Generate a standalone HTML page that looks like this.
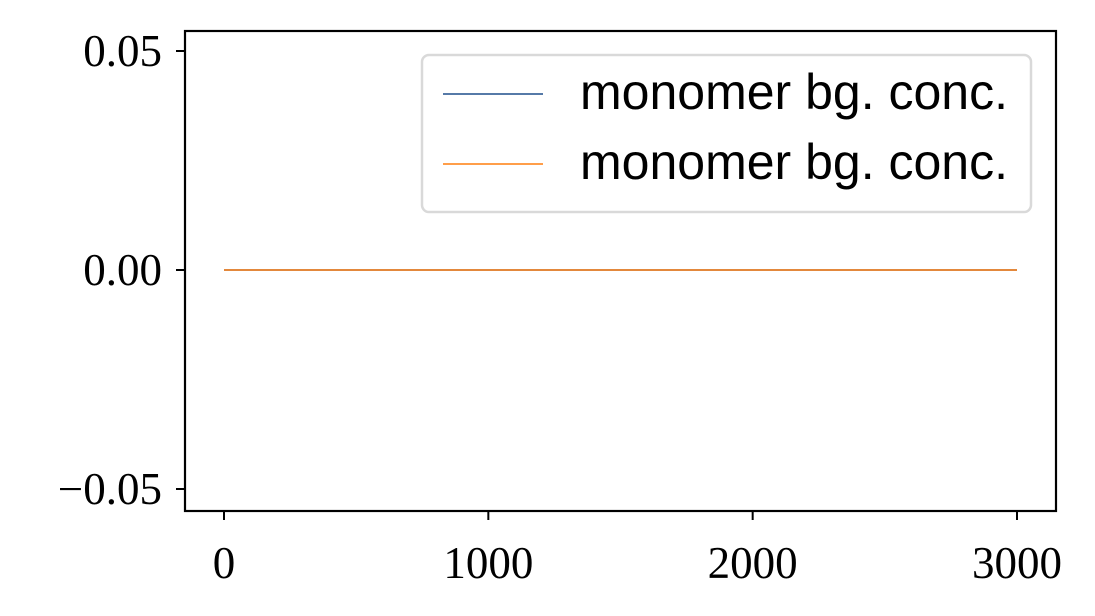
<!DOCTYPE html>
<html><head><meta charset="utf-8"><style>
html,body{margin:0;padding:0;background:#fff;}
svg{display:block;}
.tick{font-family:"Liberation Serif",serif;font-size:45px;fill:#000;}
.leg{font-family:"Liberation Sans",sans-serif;font-size:50px;fill:#000;}
</style></head><body>
<svg id="chart" width="1095" height="616" viewBox="0 0 1095 616"></svg>
<script>
const xTicks = [0, 1000, 2000, 3000];
const xTickLabels = ["0", "1000", "2000", "3000"];
const yTicks = [0.05, 0.00, -0.05];
const yTickLabels = ["0.05", "0.00", "\u22120.05"];
const seriesNames = ["monomer bg. conc.", "monomer bg. conc."];
const seriesColors = ["#1f4e8c", "#ff7f0e"];
const seriesX = [0, 3000];
const seriesA = [0, 0];
const seriesB = [0, 0];

const NS = "http://www.w3.org/2000/svg";
const svg = document.getElementById("chart");
const L = 185, T = 31, R = 1056, B = 511;
function xs(v){ return 224 + (v - 0) / 3000 * (1017 - 224); }
function ys(v){ return 270 - v / 0.05 * (270 - 51); }
function mk(tag, attrs, parent){
  const e = document.createElementNS(NS, tag);
  for (const k in attrs) e.setAttribute(k, attrs[k]);
  (parent || svg).appendChild(e);
  return e;
}
[seriesA, seriesB].forEach((ys_, i) => {
  const pts = seriesX.map((x, j) => xs(x) + "," + ys(ys_[j])).join(" ");
  const pl = mk("polyline", {points: pts, fill: "none", stroke: seriesColors[i], "stroke-width": 1.5});
  
  
});
const fr = mk("rect", {x: L, y: T, width: R - L, height: B - T, fill: "none", stroke: "#000", "stroke-width": 2.2});


xTicks.forEach((v, i) => {
  const g = mk("g", {});
  
  
  mk("line", {x1: xs(v), x2: xs(v), y1: B, y2: B + 9, stroke: "#000", "stroke-width": 2}, g);
  const t = mk("text", {x: xs(v), y: 578, "text-anchor": "middle", class: "tick"}, g);
  t.textContent = xTickLabels[i];
});
yTicks.forEach((v, i) => {
  const g = mk("g", {});
  
  
  mk("line", {x1: L - 9, x2: L, y1: ys(v), y2: ys(v), stroke: "#000", "stroke-width": 2}, g);
  const t = mk("text", {x: 162, y: ys(v) + 15, "text-anchor": "end", class: "tick"}, g);
  t.textContent = yTickLabels[i];
});
const lg = mk("g", {});


mk("rect", {x: 422, y: 55, width: 609, height: 157, rx: 7, fill: "#fff", "fill-opacity": 0.8, stroke: "#d9d9d9", "stroke-width": 2.5}, lg);
seriesNames.forEach((n, i) => {
  const e = mk("g", {}, lg);
  
  
  const y = 94 + i * 70;
  mk("line", {x1: 443, x2: 543, y1: y, y2: y, stroke: seriesColors[i], "stroke-width": 1.5}, e);
  const t = mk("text", {x: 580, y: y + 15, class: "leg"}, e);
  t.textContent = n;
});
</script>
</body></html>
